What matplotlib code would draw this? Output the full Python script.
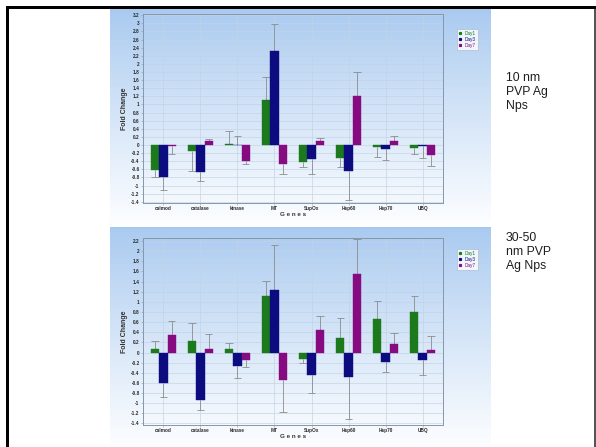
import numpy as np
import matplotlib
matplotlib.use("Agg")
import matplotlib.pyplot as plt
from matplotlib.patches import Rectangle
from matplotlib.ticker import FixedLocator

genes = ["calmod", "catalase", "kinase", "MT", "SupOx", "Hsp60", "Hsp70", "UBQ"]
days = ["Day1", "Day3", "Day7"]

# 10 nm PVP Ag NPs: mean fold change and SD per gene
nm10_day1 = [-0.61, -0.14, 0.03, 1.12, -0.42, -0.31, -0.04, -0.07]
nm10_day1_sd = [0.19, 0.51, 0.31, 0.56, 0.13, 0.24, 0.26, 0.15]
nm10_day3 = [-0.79, -0.67, 0.01, 2.31, -0.34, -0.63, -0.11, -0.02]
nm10_day3_sd = [0.31, 0.21, 0.20, 0.67, 0.37, 0.72, 0.27, 0.29]
nm10_day7 = [-0.02, 0.11, -0.40, -0.46, 0.11, 1.22, 0.11, -0.25]
nm10_day7_sd = [0.19, 0.05, 0.07, 0.26, 0.07, 0.58, 0.11, 0.27]

# 30-50 nm PVP Ag NPs
nm30_day1 = [0.07, 0.22, 0.06, 1.11, -0.12, 0.29, 0.67, 0.79]
nm30_day1_sd = [0.15, 0.36, 0.12, 0.30, 0.09, 0.39, 0.34, 0.32]
nm30_day3 = [-0.61, -0.94, -0.26, 1.24, -0.45, -0.48, -0.18, -0.14]
nm30_day3_sd = [0.26, 0.19, 0.24, 0.89, 0.35, 0.84, 0.20, 0.30]
nm30_day7 = [0.34, 0.06, -0.14, -0.54, 0.45, 1.54, 0.16, 0.05]
nm30_day7_sd = [0.29, 0.31, 0.14, 0.64, 0.27, 0.71, 0.23, 0.28]

colors = ["#1c7a1c", "#0c0c80", "#860a80"]
chart_font = ["Liberation Sans", "DejaVu Sans"]

W, H = 596, 447
fig = plt.figure(figsize=(W / 100, H / 100), dpi=100)
fig.patch.set_facecolor("white")


def box(x0, y0, x1, y1):
    return [x0 / W, 1 - y1 / H, (x1 - x0) / W, (y1 - y0) / H]


def fill_px(x0, y0, x1, y1, color):
    fig.add_artist(Rectangle((x0 / W, 1 - y1 / H), (x1 - x0) / W, (y1 - y0) / H,
                             transform=fig.transFigure, facecolor=color,
                             edgecolor="none", zorder=10))


def panel_bg(y0, y1):
    bg = fig.add_axes(box(110, y0, 491, y1))
    t = np.linspace(0, 1, 256)[:, None, None]
    top = np.array([0.66, 0.79, 0.94])
    bottom = np.array([0.99, 0.995, 1.0])
    img = top + (bottom - top) * t ** 0.9
    bg.imshow(img, aspect="auto", extent=[0, 1, 0, 1], origin="upper")
    bg.set_axis_off()


def draw_chart(rect, series, sds, ylim, ytop, legend_xy):
    ax = fig.add_axes(rect)
    ax.set_facecolor("none")
    x = np.arange(len(genes))
    w = 0.225
    offsets = [-w, 0.0, w]
    for off, vals, sd, col in zip(offsets, series, sds, colors):
        vals = np.asarray(vals)
        sd = np.asarray(sd)
        ax.bar(x + off, vals, w, color=col, edgecolor=col, linewidth=0.3,
               zorder=3)
        ends = vals + np.sign(np.where(vals == 0, 1, vals)) * sd
        ax.vlines(x + off, vals, ends, color="#8c8c8c", linewidth=0.6, zorder=2)
        ax.hlines(ends, x + off - 0.1, x + off + 0.1, color="#8c8c8c",
                  linewidth=0.6, zorder=2)

    ax.set_xlim(-0.55, len(genes) - 0.45)
    ax.set_ylim(ylim[0], ylim[1])
    ticks = np.round(np.arange(-1.4, ytop + 0.001, 0.2), 1)
    ax.yaxis.set_major_locator(FixedLocator(ticks))
    ax.set_yticklabels([("%g" % v) if v != 0 else "0" for v in ticks],
                       fontsize=3.4, fontweight="bold", color="#2a2a2a",
                       family=chart_font)
    ax.set_xticks(x)
    ax.set_xticklabels(genes, fontsize=3.4, fontweight="bold", color="#2a2a2a",
                       family=chart_font)
    ax.tick_params(axis="both", length=1.2, width=0.4, color="#8899aa", pad=1.2)
    ax.grid(True, color="#c3d2e3", linewidth=0.45, zorder=0)
    ax.set_axisbelow(True)
    for s in ax.spines.values():
        s.set_color("#8497ad")
        s.set_linewidth(0.7)
    ax.set_xlabel("G e n e s", fontsize=4.5, fontweight="bold", color="#333333",
                  family=chart_font, labelpad=0.5)
    ax.set_ylabel("Fold Change", fontsize=5.0, fontweight="bold", color="#333333",
                  family=chart_font, labelpad=2.5)

    handles = [plt.Line2D([], [], marker="s", linestyle="none", markersize=1.3,
                          color=c) for c in colors]
    leg = ax.legend(handles, days, loc="upper left",
                    bbox_to_anchor=(legend_xy[0] / W, 1 - legend_xy[1] / H),
                    bbox_transform=fig.transFigure, fontsize=3.4,
                    handlelength=0.6, handletextpad=0.6, borderpad=0.4,
                    labelspacing=0.2, frameon=True, fancybox=False,
                    borderaxespad=0)
    leg.get_frame().set_edgecolor("#9aa8b8")
    leg.get_frame().set_linewidth(0.4)
    leg.get_frame().set_facecolor("white")
    for txt, c in zip(leg.get_texts(), colors):
        txt.set_color(c)
        txt.set_fontfamily(chart_font)
    return ax


# gradient chart panels
panel_bg(9, 225)
panel_bg(227, 447)

draw_chart(box(143, 14, 443, 203),
           [nm10_day1, nm10_day3, nm10_day7],
           [nm10_day1_sd, nm10_day3_sd, nm10_day7_sd],
           (-1.43, 3.23), 3.2, (457, 29))
draw_chart(box(143, 238, 443, 425),
           [nm30_day1, nm30_day3, nm30_day7],
           [nm30_day1_sd, nm30_day3_sd, nm30_day7_sd],
           (-1.43, 2.26), 2.2, (457, 249))

# table borders
fill_px(6, 6.5, 596, 9.2, "black")
fill_px(6, 6.5, 9, 447, "black")
fill_px(594.3, 9, 595.6, 447, "#555555")
fill_px(490.6, 9, 491.4, 447, "#dcdcdc")
fill_px(110, 225.5, 491, 226.3, "#e2e2e2")

# row captions
side_font = ["Liberation Sans", "DejaVu Sans"]
fig.text(506 / W, 1 - 72 / H, "10 nm\nPVP Ag\nNps", ha="left", va="top",
         fontsize=8.8, color="#1e1e1e", family=side_font, linespacing=1.22)
fig.text(506 / W, 1 - 232 / H, "30-50\nnm PVP\nAg Nps", ha="left", va="top",
         fontsize=8.8, color="#1e1e1e", family=side_font, linespacing=1.22)

fig.savefig("out.png", dpi=100, facecolor="white")
